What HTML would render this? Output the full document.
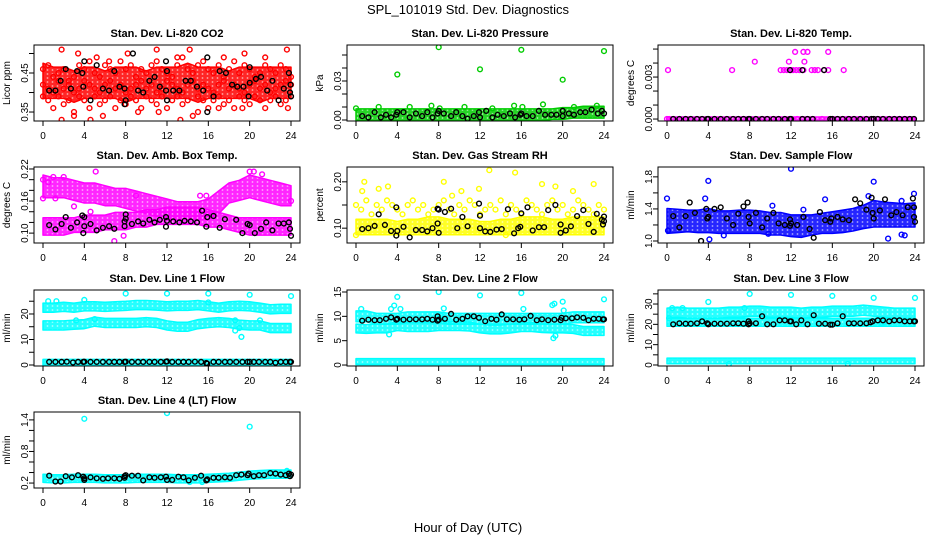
<!DOCTYPE html>
<html><head><meta charset="utf-8"><style>
html,body{margin:0;padding:0;background:#fff;}
svg{display:block;font-family:"Liberation Sans",Arial,sans-serif;}
</style></head><body>
<svg id="chart" width="936" height="540" viewBox="0 0 936 540" xmlns="http://www.w3.org/2000/svg">
<defs id="defs"></defs>
<text x="468" y="14" text-anchor="middle" font-size="13">SPL_101019  Std. Dev. Diagnostics</text>
<text x="468" y="532" text-anchor="middle" font-size="13">Hour of Day (UTC)</text>
<g id="panels"></g>
</svg>
<script>
const hourTicks = [0,4,8,12,16,20,24];

// ---- Panel 1: CO2 ----
const co2BandLo = [0.39,0.39,0.39,0.38,0.39,0.39,0.39,0.39,0.38,0.39,0.39,0.39,0.39,0.39,0.39,0.38,0.39,0.39,0.39,0.39,0.39,0.38,0.39,0.39,0.39];
const co2BandHi = [0.47,0.46,0.46,0.45,0.46,0.46,0.45,0.46,0.46,0.46,0.45,0.46,0.46,0.46,0.47,0.46,0.46,0.46,0.45,0.46,0.46,0.46,0.46,0.46,0.46];
const co2CloudA = [0.46,0.47,0.44,0.45,0.46,0.43,0.44,0.47,0.46,0.48,0.45,0.44,0.47,0.46,0.45,0.48,0.46,0.47,0.44,0.46,0.45,0.47,0.48,0.46,0.45,0.44,0.47,0.49,0.46,0.45,0.47,0.48,0.46,0.45,0.47,0.44,0.46,0.48,0.45,0.47,0.46,0.44,0.45,0.47,0.46,0.45,0.47,0.46,0.44];
const co2CloudB = [0.42,0.41,0.40,0.43,0.41,0.42,0.40,0.41,0.43,0.42,0.41,0.40,0.42,0.43,0.41,0.42,0.40,0.41,0.42,0.43,0.41,0.42,0.40,0.41,0.43,0.42,0.41,0.40,0.42,0.43,0.41,0.42,0.41,0.40,0.42,0.43,0.41,0.42,0.41,0.40,0.42,0.43,0.41,0.42,0.40,0.41,0.42,0.43,0.42];
const co2CloudC = [0.39,0.38,0.36,0.39,0.37,0.38,0.35,0.39,0.38,0.36,0.39,0.37,0.38,0.39,0.36,0.38,0.37,0.39,0.38,0.36,0.39,0.38,0.37,0.39,0.36,0.38,0.39,0.37,0.38,0.34,0.39,0.38,0.36,0.38,0.39,0.37,0.38,0.36,0.39,0.38,0.37,0.39,0.38,0.36,0.38,0.39,0.37,0.38,0.39];
const co2Out = [[1.8,0.51],[3.4,0.50],[5.2,0.49],[6.4,0.48],[8.2,0.50],[11,0.51],[13,0.49],[14.2,0.51],[17.5,0.49],[19.5,0.50],[21.5,0.49],[23.6,0.51],[1.8,0.33],[3,0.34],[4.6,0.33],[5.8,0.34],[9.2,0.35],[11.2,0.35],[13.3,0.33],[15,0.35],[17,0.36],[19.3,0.36],[23.7,0.36]];
const co2Black = [[0.6,0.405],[1.2,0.405],[1.7,0.43],[2.2,0.46],[2.7,0.41],[3.3,0.455],[3.8,0.45],[3.9,0.415],[4,0.48],[4.6,0.38],[5.2,0.47],[5.8,0.41],[6.4,0.405],[6.9,0.455],[7.4,0.415],[7.9,0.41],[7.9,0.37],[8,0.38],[8.7,0.50],[9.2,0.405],[9.7,0.40],[10.3,0.43],[10.8,0.44],[11.3,0.415],[11.9,0.405],[11.9,0.48],[12,0.455],[12,0.38],[12.6,0.405],[13.2,0.405],[13.8,0.43],[14.3,0.43],[14.9,0.415],[15.5,0.405],[15.9,0.35],[15.9,0.49],[16.5,0.39],[17.1,0.455],[17.7,0.45],[18.3,0.42],[18.8,0.415],[19.4,0.415],[19.9,0.39],[20,0.465],[20,0.425],[20.6,0.435],[21.1,0.44],[21.7,0.405],[22.2,0.43],[22.8,0.38],[23.3,0.41],[23.8,0.45],[23.9,0.40],[24,0.39],[23.95,0.42]];

// ---- Panel 2: Pressure ----
const presBandLo = [0.001,0.001,0.001,0.001,0.001,0.001,0.001,0.001,0.001,0.001,0.001,0.001,0.001,0.001,0.001,0.001,0.001,0.001,0.001,0.002,0.002,0.003,0.003,0.003,0.003];
const presBandHi = [0.007,0.007,0.007,0.007,0.007,0.007,0.007,0.007,0.007,0.007,0.007,0.007,0.007,0.007,0.007,0.007,0.007,0.007,0.007,0.007,0.008,0.008,0.009,0.009,0.009];
const presOut = [[0,0.009],[2.2,0.010],[4,0.035],[5.2,0.010],[7.3,0.011],[8,0.056],[8.1,0.009],[10.5,0.010],[12,0.039],[13.2,0.009],[15.3,0.011],[16,0.054],[16.1,0.010],[18.1,0.012],[20,0.031],[21.1,0.010],[23.3,0.011],[24,0.053]];
const presBlack = [[0.6,0.003],[1.2,0.002],[1.8,0.006],[2.4,0.002],[2.9,0.004],[3.4,0.002],[3.9,0.004],[4,0.006],[4.6,0.006],[5.2,0.002],[5.8,0.005],[6.4,0.003],[6.9,0.006],[7.4,0.002],[7.9,0.005],[8,0.007],[8.5,0.005],[9.2,0.003],[9.7,0.006],[10.3,0.003],[10.8,0.001],[11.4,0.003],[11.9,0.006],[12,0.002],[12.6,0.007],[13.2,0.002],[13.7,0.004],[14.3,0.003],[14.9,0.005],[15.4,0.002],[15.9,0.004],[16,0.005],[16.5,0.003],[17.1,0.003],[17.7,0.007],[18.3,0.004],[18.9,0.004],[19.4,0.004],[20,0.007],[20,0.003],[20.6,0.005],[21.1,0.004],[21.7,0.006],[22.2,0.006],[22.8,0.008],[23.4,0.005],[23.8,0.007],[24,0.005]];

// ---- Panel 3: Li-820 Temp ----
const tempBandLo = [0,0,0,0,0,0,0,0,0,0,0,0,0,0,0,0,0,0,0,0,0,0,0,0,0];
const tempBandHi = [0,0,0,0,0,0,0,0,0,0,0,0,0,0,0,0,0,0,0,0,0,0,0,0,0];
const tempOut = [[0.1,0.0035],[6.3,0.0035],[11,0.0035],[11.3,0.0035],[11.6,0.0035],[12,0.0035],[12.2,0.0035],[12.5,0.0035],[12.8,0.0035],[13.2,0.0035],[14,0.0035],[14.3,0.0035],[14.6,0.0035],[15.2,0.0035],[15.6,0.0035],[17.1,0.0035],[8.5,0.0041],[11.8,0.0041],[13.3,0.0041],[12.4,0.0048],[13.2,0.0048],[13.6,0.0048],[15.6,0.0048],[0,0],[0.2,0],[12.6,0],[15,0],[16,0],[17.5,0]];
const tempBlack = [[0.6,0],[1.2,0],[1.8,0],[2.3,0],[2.9,0],[3.4,0],[3.9,0],[4,0],[4.6,0],[5.2,0],[5.8,0],[6.4,0],[6.9,0],[7.4,0],[7.9,0],[8,0],[8.6,0],[9.2,0],[9.7,0],[10.3,0],[10.8,0],[11.4,0],[11.9,0],[12,0],[13.1,0],[13.6,0],[14.1,0],[15.8,0],[16,0],[16.5,0],[17,0],[17.6,0],[18.1,0],[18.7,0],[19.3,0],[19.8,0],[20,0],[20.4,0],[20.9,0],[21.5,0],[22,0],[22.5,0],[23,0],[23.5,0],[23.9,0],[11.9,0.0035],[13.1,0.0035],[15.2,0.0035]];

// ---- Panel 4: Amb. Box Temp ----
const ambUpLo = [0.17,0.17,0.17,0.165,0.16,0.16,0.155,0.155,0.15,0.145,0.14,0.135,0.13,0.13,0.13,0.13,0.13,0.14,0.16,0.165,0.17,0.165,0.16,0.155,0.155];
const ambUpHi = [0.205,0.20,0.20,0.195,0.19,0.19,0.185,0.18,0.18,0.175,0.17,0.165,0.16,0.155,0.155,0.155,0.16,0.175,0.19,0.195,0.205,0.20,0.195,0.19,0.185];
const ambLowLo = [0.10,0.10,0.10,0.105,0.105,0.105,0.11,0.11,0.11,0.115,0.115,0.12,0.12,0.12,0.12,0.12,0.115,0.115,0.11,0.105,0.10,0.10,0.10,0.10,0.10];
const ambLowHi = [0.125,0.125,0.125,0.125,0.13,0.13,0.13,0.135,0.135,0.135,0.14,0.14,0.145,0.145,0.145,0.145,0.14,0.135,0.13,0.125,0.125,0.125,0.125,0.125,0.125];
const ambOut = [[5.1,0.215],[6.9,0.085],[20,0.215],[20.4,0.215],[0,0.165],[1.2,0.165],[3,0.15],[4.6,0.14],[7.8,0.095],[21.2,0.21],[24,0.16],[15.2,0.17],[15.8,0.17],[9,0.17],[2,0.205],[1,0.205],[0,0.2],[0.5,0.195]];
const ambBlack = [[0.6,0.115],[1.2,0.107],[1.8,0.117],[2.2,0.13],[2.7,0.11],[3.3,0.12],[3.8,0.133],[3.9,0.10],[4,0.113],[4,0.13],[4.6,0.117],[5.2,0.105],[5.8,0.11],[6.4,0.113],[6.9,0.108],[7.9,0.113],[7.9,0.122],[8,0.135],[8,0.127],[8.6,0.117],[9.2,0.122],[9.7,0.118],[10.3,0.125],[10.8,0.12],[11.3,0.125],[11.9,0.13],[11.9,0.112],[12,0.123],[12.6,0.122],[13.2,0.12],[13.7,0.123],[14.3,0.122],[14.9,0.12],[15.4,0.142],[15.8,0.112],[15.9,0.13],[16.5,0.132],[17.1,0.11],[17.6,0.126],[18.7,0.125],[19.3,0.10],[19.8,0.117],[20,0.115],[20.5,0.10],[21.1,0.108],[21.6,0.12],[22.2,0.105],[22.8,0.118],[23.3,0.118],[23.8,0.12],[23.9,0.108],[24,0.095]];

// ---- Panel 5: Gas Stream RH ----
const rhBandLo = [0.09,0.09,0.09,0.09,0.09,0.09,0.09,0.09,0.09,0.09,0.09,0.09,0.09,0.09,0.09,0.09,0.09,0.09,0.09,0.09,0.09,0.09,0.09,0.09,0.09];
const rhBandHi = [0.115,0.115,0.115,0.115,0.11,0.115,0.115,0.12,0.12,0.115,0.115,0.115,0.11,0.11,0.115,0.115,0.12,0.12,0.12,0.115,0.115,0.12,0.12,0.12,0.12];
const rhCloud = [0.15,0.14,0.16,0.13,0.15,0.14,0.16,0.15,0.14,0.13,0.15,0.16,0.14,0.15,0.13,0.14,0.15,0.16,0.14,0.13,0.15,0.14,0.16,0.15,0.13,0.14,0.15,0.14,0.16,0.13,0.15,0.14,0.13,0.16,0.15,0.14,0.13,0.15,0.16,0.14,0.15,0.13,0.14,0.16,0.15,0.14,0.13,0.15,0.14];
const rhOut = [[0.8,0.20],[0.6,0.18],[2.2,0.185],[3.1,0.19],[10.2,0.18],[11.9,0.185],[12.9,0.225],[15.4,0.22],[18,0.195],[19.3,0.19],[21,0.18],[23,0.195],[0,0.085],[14.5,0.085],[8.5,0.20],[9.3,0.17]];
const rhBlack = [[0.6,0.098],[1.2,0.10],[1.8,0.105],[2.2,0.13],[2.8,0.107],[3.4,0.094],[3.9,0.084],[3.9,0.145],[4,0.094],[4.6,0.103],[5.2,0.08],[5.8,0.096],[6.4,0.096],[6.9,0.093],[7.4,0.10],[7.9,0.11],[7.9,0.142],[8,0.14],[8,0.09],[8.6,0.135],[9.2,0.142],[9.8,0.10],[10.3,0.124],[10.8,0.104],[11.9,0.153],[12,0.10],[12,0.127],[12.5,0.093],[13,0.092],[13.6,0.097],[14.1,0.098],[14.7,0.141],[15.3,0.089],[15.7,0.10],[15.9,0.103],[16,0.132],[16.6,0.145],[17.1,0.095],[17.7,0.102],[18.2,0.102],[18.6,0.139],[19.3,0.15],[19.8,0.108],[19.8,0.09],[20.3,0.095],[20.8,0.104],[21.4,0.126],[22,0.139],[22.5,0.109],[23,0.092],[23.3,0.131],[23.8,0.118],[23.9,0.108],[24,0.125],[24,0.115]];

// ---- Panel 6: Sample Flow ----
const sfBandLo = [1.12,1.13,1.14,1.13,1.13,1.12,1.12,1.12,1.12,1.12,1.10,1.10,1.08,1.07,1.10,1.12,1.12,1.13,1.15,1.18,1.20,1.20,1.20,1.20,1.20];
const sfBandHi = [1.38,1.37,1.36,1.36,1.38,1.35,1.35,1.36,1.36,1.35,1.33,1.33,1.30,1.30,1.30,1.32,1.34,1.36,1.38,1.42,1.48,1.46,1.45,1.44,1.45];
const sfOut = [[0,1.53],[0.1,1.13],[3.7,1.53],[4,1.75],[4.1,1.02],[12,1.90],[10.2,1.44],[15.3,1.52],[20,1.74],[19.5,1.56],[21.4,1.03],[22.7,1.08],[23,1.07],[23.9,1.59],[22.7,1.50],[13.2,1.39],[5.5,1.07],[9.8,1.09]];
const sfBlack = [[0.6,1.31],[1.2,1.17],[1.8,1.31],[2.2,1.48],[2.7,1.35],[3.3,1.00],[3.8,1.40],[3.9,1.28],[4,1.30],[4.6,1.40],[5.2,1.42],[5.8,1.28],[6.4,1.20],[6.9,1.34],[7.4,1.43],[7.8,1.48],[7.9,1.30],[8,1.22],[8.6,1.35],[9.2,1.17],[9.7,1.28],[10.3,1.35],[10.8,1.22],[11.4,1.20],[11.9,1.27],[11.9,1.19],[12,1.22],[12.6,1.20],[13.2,1.30],[13.8,1.15],[14.2,1.04],[14.8,1.36],[15.3,1.26],[15.8,1.24],[15.9,1.28],[16.5,1.30],[17,1.27],[17.6,1.26],[18.2,1.52],[18.7,1.47],[19.3,1.39],[19.8,1.54],[19.9,1.35],[20,1.28],[20.6,1.38],[21.1,1.52],[21.7,1.32],[22.2,1.36],[22.8,1.32],[23.3,1.42],[23.8,1.53],[23.9,1.42],[24,1.24],[23.9,1.30]];

// ---- Panel 7: Line 1 Flow ----
const l1UpLo = [21.5,21.5,21.8,21.5,22,22,21.8,22,22.2,22.5,22.5,22.3,22,22.2,22.2,22.5,22,21.5,22,22.2,22,21.5,20.8,21,21];
const l1UpHi = [23.5,23.5,23.8,23.5,24,24,23.8,24,24.2,24.5,24.5,24.3,24,24.2,24.2,24.5,24,23.5,24,24.2,24,23.5,22.8,23,23];
const l1MidLo = [14.5,14.5,14.5,14.8,15,16,15.5,15.5,15.5,15.5,15.8,15.5,14.5,14,14,15,15.5,15.8,15.5,14.8,14.5,14.5,13.5,13.5,13.5];
const l1MidHi = [16.5,16.5,16.5,16.8,17,18,17.5,17.5,17.5,17.5,17.8,17.5,16.5,16,16,17,17.5,17.8,17.5,16.8,16.5,16.5,15.5,15.5,15.5];
const l1LowLo = [0.6,0.6,0.6,0.6,0.6,0.6,0.6,0.6,0.6,0.6,0.6,0.6,0.6,0.6,0.6,0.6,0.6,0.6,0.6,0.6,0.6,0.6,0.6,0.6,0.6];
const l1LowHi = [1.4,1.4,1.4,1.4,1.4,1.4,1.4,1.4,1.4,1.4,1.4,1.4,1.4,1.4,1.4,1.4,1.4,1.4,1.4,1.4,1.4,1.4,1.4,1.4,1.4];
const l1Out = [[0.5,25],[1.3,25],[4,25.5],[8,28],[12,28],[16,28],[16,24.5],[20,27.5],[24,27],[19.2,11],[18.6,13.5],[19,14.5],[5,18],[21,17.5],[3.2,17.5],[18.6,17.5]];
const l1Black = [[0.6,1.2],[1.2,1.2],[1.8,1.2],[2.3,1.3],[2.9,1.0],[3.4,1.2],[3.9,1.2],[4,1.3],[4.6,1.2],[5.2,1.2],[5.8,1.2],[6.4,1.2],[6.9,1.2],[7.4,1.2],[7.9,1.2],[8,1.3],[8.6,1.2],[9.2,1.2],[9.7,1.2],[10.3,1.2],[10.8,1.2],[11.4,1.2],[11.9,1.3],[12,1.4],[12.5,1.2],[13.1,1.2],[13.6,1.2],[14.1,1.2],[14.7,1.3],[15.3,1.2],[15.8,0.8],[15.9,0.5],[16.5,1.2],[17,1.2],[17.6,1.2],[18.1,1.2],[18.7,1.2],[19.3,1.2],[19.8,1.2],[20,1.2],[20.4,1.2],[20.9,1.2],[21.5,1.2],[22,1.2],[22.5,0.9],[23,1.2],[23.5,1.2],[23.9,1.2],[24,1.2]];

// ---- Panel 8: Line 2 Flow ----
const l2UpLo = [9.3,9.3,8.8,8.8,8.8,9.1,9.1,9.1,9.1,8.8,8.8,8.8,8.8,8.8,8.8,8.8,8.8,8.8,8.8,8.8,8.8,9.1,9.1,9.1,9.1];
const l2UpHi = [10.7,10.7,10.2,10.2,10.2,10.5,10.5,10.5,10.5,10.2,10.2,10.2,10.2,10.2,10.2,10.2,10.2,10.2,10.2,10.2,10.2,10.5,10.5,10.5,10.5];
const l2MidLo = [7.0,6.9,7.0,7.0,7.5,7.3,7.3,7.3,7.5,7.5,7.5,7.4,7.0,6.8,6.8,7.0,7.3,7.3,7.1,7.0,7.0,6.9,6.5,6.5,6.5];
const l2MidHi = [8.0,7.9,8.0,8.0,8.5,8.3,8.3,8.3,8.5,8.5,8.5,8.4,8.0,7.8,7.8,8.0,8.3,8.3,8.1,8.0,8.0,7.9,7.5,7.5,7.5];
const l2LowLo = [0.5,0.5,0.5,0.5,0.5,0.5,0.5,0.5,0.5,0.5,0.5,0.5,0.5,0.5,0.5,0.5,0.5,0.5,0.5,0.5,0.5,0.5,0.5,0.5,0.5];
const l2LowHi = [0.9,0.9,0.9,0.9,0.9,0.9,0.9,0.9,0.9,0.9,0.9,0.9,0.9,0.9,0.9,0.9,0.9,0.9,0.9,0.9,0.9,0.9,0.9,0.9,0.9];
const l2Out = [[0.5,11.5],[3.4,11.5],[3.7,12.2],[4,14],[4.3,11.5],[8,15],[8.5,11.6],[12,14.3],[16,14.8],[16.2,11.5],[19,12.3],[19.2,12.6],[20,13],[20.1,11.2],[24,13.5],[3.2,6.3],[19.1,5.5],[19.3,6],[8.2,10.2]];
const l2Black = [[0.6,9.1],[1.2,9.3],[1.8,9.2],[2.3,9.2],[2.9,9.5],[3.4,9.8],[3.9,9.3],[4,9.5],[4.6,9.3],[5.2,9.4],[5.8,9.4],[6.4,9.4],[6.9,9.5],[7.4,9.3],[7.9,9.1],[7.9,10],[8,9.3],[8.6,9.5],[9.2,10.5],[9.7,9.3],[10.3,9.5],[10.8,10],[11.4,10],[11.9,9.7],[12.5,9.0],[13.1,9.5],[13.6,9.3],[14.1,10.4],[14.6,9.4],[15.2,9.4],[15.8,9.3],[16.3,9.4],[16.9,10.1],[17.5,9.2],[18,9.4],[18.6,9.2],[19.2,9.3],[19.8,9.2],[19.9,9.7],[20.3,9.6],[20.9,9.6],[21.4,9.8],[22,9.7],[22.5,9.2],[23,9.5],[23.5,9.5],[23.9,9.4],[24,9.4]];

// ---- Panel 9: Line 3 Flow ----
const l3UpLo = [24,24.5,24,24,24,24,24.5,24.5,25,25,24.5,24.5,24.5,24,24.5,24.5,25,25,25,25.5,25,24.5,24,24,24];
const l3UpHi = [27,27.5,27,27,27,27,27.5,27.5,28,28,27.5,27.5,27.5,27,27.5,27.5,28,28,28,28.5,28,27.5,27,27,27];
const l3MidLo = [20,20,20,20,20,20,20,20,20,20,20,20,20,20,20,20,20,20,20,20,20,20,20,20,20];
const l3MidHi = [22,22,22,22,22,22,22,22,22,22,22,22,22,22,22,22,22,22,22,22,22,22,22,22,22];
const l3LowLo = [1.6,1.6,1.6,1.6,1.6,1.6,1.6,1.6,1.6,1.6,1.6,1.6,1.6,1.6,1.6,1.6,1.6,1.6,1.6,1.6,1.6,1.6,1.6,1.6,1.6];
const l3LowHi = [2.4,2.4,2.4,2.4,2.4,2.4,2.4,2.4,2.4,2.4,2.4,2.4,2.4,2.4,2.4,2.4,2.4,2.4,2.4,2.4,2.4,2.4,2.4,2.4,2.4];
const l3Out = [[4,31],[8,35],[12,34.5],[16,34],[20,33],[24,33],[0.5,28],[1.5,28],[7.5,28],[21,21],[20.8,20.5],[0.2,23],[6,0.5],[17.5,0.5]];
const l3Black = [[0.6,20],[1.2,20.5],[1.8,20.3],[2.3,20.3],[2.9,20.5],[3.4,21.5],[3.9,20.5],[4,20],[4.6,20.3],[5.2,20.3],[5.8,20.3],[6.4,20.5],[6.9,20.5],[7.4,20.3],[7.9,21.5],[7.9,20],[8,20.5],[8.6,20.5],[9.2,24],[9.7,20],[10.3,20],[10.9,22],[11.4,22],[11.9,21.5],[12,21.5],[12.5,20],[13,22],[13.6,20],[14.2,24.5],[14.7,20.3],[15.3,20.3],[15.8,19.8],[16,19.8],[16.5,20.5],[17,24],[17.6,20.5],[18.1,20.5],[18.7,20.5],[19.3,20.5],[19.7,21],[19.9,21.5],[20.4,22],[20.9,22],[21.5,21.5],[22,22],[22.5,22],[23,21.5],[23.5,21.5],[23.9,21.5],[24,21.5]];

// ---- Panel 10: Line 4 (LT) Flow ----
const l4BandLo = [0.25,0.24,0.24,0.25,0.25,0.25,0.24,0.24,0.24,0.25,0.25,0.25,0.25,0.24,0.24,0.24,0.25,0.26,0.27,0.29,0.31,0.32,0.33,0.33,0.33];
const l4BandHi = [0.33,0.32,0.32,0.33,0.33,0.33,0.32,0.32,0.32,0.33,0.33,0.33,0.33,0.32,0.32,0.32,0.33,0.34,0.35,0.37,0.39,0.40,0.41,0.41,0.41];
const l4Out = [[4,1.42],[12,1.53],[20,1.27],[14.2,0.22],[15.4,0.22],[23.6,0.43]];
const l4Black = [[0.6,0.34],[1.2,0.23],[1.7,0.23],[2.2,0.33],[2.8,0.31],[3.4,0.35],[3.9,0.32],[4,0.26],[4,0.29],[4.6,0.31],[5.2,0.29],[5.8,0.28],[6.3,0.29],[6.9,0.29],[7.4,0.28],[7.9,0.30],[7.9,0.33],[8,0.35],[8.6,0.34],[9.2,0.34],[9.7,0.25],[10.3,0.31],[10.8,0.30],[11.4,0.31],[11.9,0.32],[12,0.26],[12.5,0.26],[13.1,0.32],[13.6,0.31],[14.1,0.25],[14.7,0.30],[15.3,0.34],[15.8,0.25],[15.9,0.27],[16.5,0.30],[17,0.30],[17.6,0.31],[18.1,0.30],[18.7,0.35],[19.2,0.36],[19.8,0.35],[19.9,0.38],[20.4,0.33],[20.9,0.35],[21.4,0.35],[22,0.39],[22.5,0.38],[23,0.36],[23.5,0.35],[23.8,0.38],[23.9,0.33],[24,0.36]];

const NS = "http://www.w3.org/2000/svg";
const colX = [34, 347, 658], rowY = [45, 167, 290, 412], PW = 266, PH = 76;

const panels = [
 {key:'co2', title:'Stan. Dev. Li-820 CO2', ylab:'Licor ppm', col:'#ff0000', c:0, r:0, ymin:0.327, ymax:0.5218, ticks:[0.35,0.40,0.45,0.50], labels:[0.35,0.45], fmt:2, bands:[[co2BandLo,co2BandHi]], clouds:[co2CloudA,co2CloudB,co2CloudC], out:co2Out, blk:co2Black},
 {key:'pressure', title:'Stan. Dev. Li-820 Pressure', ylab:'kPa', col:'#00cc00', c:1, r:0, ymin:-0.00077, ymax:0.0577, ticks:[0,0.01,0.02,0.03,0.04,0.05], labels:[0,0.03], fmt:2, bands:[[presBandLo,presBandHi]], clouds:[], out:presOut, blk:presBlack},
 {key:'li820-temp', title:'Stan. Dev. Li-820 Temp.', ylab:'degrees C', col:'#ff00ff', c:2, r:0, ymin:-0.00014, ymax:0.00529, ticks:[0,0.001,0.002,0.003,0.004,0.005], labels:[0,0.003], fmt:3, bands:[[tempBandLo,tempBandHi]], clouds:[], out:tempOut, blk:tempBlack},
 {key:'amb-box-temp', title:'Stan. Dev. Amb. Box Temp.', ylab:'degrees C', col:'#ff00ff', c:0, r:1, ymin:0.0815, ymax:0.2237, ticks:[0.10,0.12,0.14,0.16,0.18,0.20,0.22], labels:[0.10,0.16,0.22], fmt:2, bands:[[ambUpLo,ambUpHi],[ambLowLo,ambLowHi]], clouds:[], out:ambOut, blk:ambBlack},
 {key:'gas-rh', title:'Stan. Dev. Gas Stream RH', ylab:'percent', col:'#ffff00', c:1, r:1, ymin:0.068, ymax:0.232, ticks:[0.10,0.15,0.20], labels:[0.10,0.20], fmt:2, bands:[[rhBandLo,rhBandHi]], clouds:[rhCloud], out:rhOut, blk:rhBlack},
 {key:'sample-flow', title:'Stan. Dev. Sample Flow', ylab:'ml/min', col:'#0000ff', c:2, r:1, ymin:0.975, ymax:1.923, ticks:[1.0,1.2,1.4,1.6,1.8], labels:[1.0,1.4,1.8], fmt:1, bands:[[sfBandLo,sfBandHi]], clouds:[], out:sfOut, blk:sfBlack},
 {key:'line1-flow', title:'Stan. Dev. Line 1 Flow', ylab:'ml/min', col:'#00ffff', c:0, r:2, ymin:-0.39, ymax:29.4, ticks:[0,5,10,15,20,25], labels:[0,10,20], fmt:0, bands:[[l1UpLo,l1UpHi],[l1MidLo,l1MidHi],[l1LowLo,l1LowHi]], clouds:[], out:l1Out, blk:l1Black},
 {key:'line2-flow', title:'Stan. Dev. Line 2 Flow', ylab:'ml/min', col:'#00ffff', c:1, r:2, ymin:-0.2, ymax:15.41, ticks:[0,5,10,15], labels:[0,5,10,15], fmt:0, bands:[[l2UpLo,l2UpHi],[l2MidLo,l2MidHi],[l2LowLo,l2LowHi]], clouds:[], out:l2Out, blk:l2Black},
 {key:'line3-flow', title:'Stan. Dev. Line 3 Flow', ylab:'ml/min', col:'#00ffff', c:2, r:2, ymin:-0.5, ymax:36.9, ticks:[0,5,10,15,20,25,30,35], labels:[0,10,20,30], fmt:0, bands:[[l3UpLo,l3UpHi],[l3MidLo,l3MidHi],[l3LowLo,l3LowHi]], clouds:[], out:l3Out, blk:l3Black},
 {key:'line4-flow', title:'Stan. Dev. Line 4 (LT) Flow', ylab:'ml/min', col:'#00ffff', c:0, r:3, ymin:0.106, ymax:1.55, ticks:[0.2,0.4,0.6,0.8,1.0,1.2,1.4], labels:[0.2,0.8,1.4], fmt:1, bands:[[l4BandLo,l4BandHi]], clouds:[], out:l4Out, blk:l4Black}
];

function mk(tag, attrs, parent){
  const e = document.createElementNS(NS, tag);
  for (const k in attrs) e.setAttribute(k, attrs[k]);
  if (parent) parent.appendChild(e);
  return e;
}
const defs = document.getElementById('defs');
const root = document.getElementById('panels');

panels.forEach(function(p){
  const bx = colX[p.c], by = rowY[p.r];
  const xs = function(h){ return bx + 9 + h / 24 * (PW - 18); };
  const ys = function(v){ return by + PH - (v - p.ymin) / (p.ymax - p.ymin) * PH; };

  const g = mk('g', {}, root);
  
  

  const pat = mk('pattern', {id:'pat-' + p.key, patternUnits:'userSpaceOnUse', width:5, height:4}, defs);
  mk('rect', {x:0, y:0, width:5, height:4, fill:p.col, 'fill-opacity':0.85}, pat);
  mk('circle', {cx:2.5, cy:2, r:0.9, fill:'#fff', 'fill-opacity':0.6}, pat);

  const t = mk('text', {x: bx + PW/2, y: by - 8, 'text-anchor':'middle', 'font-size':11, 'font-weight':'bold'}, g);
  t.textContent = p.title;
  
  

  const yl = mk('text', {transform:'translate(' + (bx - 24) + ',' + (by + PH/2) + ') rotate(-90)', 'text-anchor':'middle', 'font-size':10}, g);
  yl.textContent = p.ylab;
  
  

  const clip = mk('clipPath', {id:'clip-' + p.key}, defs);
  mk('rect', {x:bx, y:by, width:PW, height:PH}, clip);
  const marks = mk('g', {'clip-path':'url(#clip-' + p.key + ')'}, g);
  
  

  p.bands.forEach(function(b, bi){
    const lo = b[0], hi = b[1], n = lo.length;
    let pts = [];
    for (let i = 0; i < n; i++) pts.push(xs(i * 24 / (n - 1)).toFixed(1) + ',' + (ys(hi[i]) - 2).toFixed(1));
    for (let i = n - 1; i >= 0; i--) pts.push(xs(i * 24 / (n - 1)).toFixed(1) + ',' + (ys(lo[i]) + 2).toFixed(1));
    const poly = mk('polygon', {points: pts.join(' '), fill:'url(#pat-' + p.key + ')', stroke:p.col, 'stroke-width':1.5, 'stroke-linejoin':'round'}, marks);
    
    
  });

  function ring(h, v, color, name){
    const c = mk('circle', {cx: xs(h).toFixed(1), cy: ys(v).toFixed(1), r:2.4, fill:'none', stroke:color, 'stroke-width':1.4}, marks);
    
    
  }
  p.clouds.forEach(function(arr){
    const n = arr.length;
    arr.forEach(function(v, i){ ring(i * 24 / (n - 1), v, p.col, p.key + '-point'); });
  });
  p.out.forEach(function(d){ ring(d[0], d[1], p.col, p.key + '-point'); });
  p.blk.forEach(function(d){ ring(d[0], d[1], '#000', p.key + '-black-point'); });

  const box = mk('rect', {x:bx, y:by, width:PW, height:PH, fill:'none', stroke:'#000', 'stroke-width':1}, g);
  
  

  const xa = mk('g', {}, g);
  
  
  mk('line', {x1:xs(0), x2:xs(24), y1:by+PH, y2:by+PH, stroke:'#000'}, xa);
  hourTicks.forEach(function(h){
    mk('line', {x1:xs(h), x2:xs(h), y1:by+PH, y2:by+PH+5, stroke:'#000'}, xa);
    const tx = mk('text', {x:xs(h), y:by+PH+18, 'text-anchor':'middle', 'font-size':10}, xa);
    tx.textContent = h;
  });

  const ya = mk('g', {}, g);
  
  
  mk('line', {x1:bx, x2:bx, y1:ys(p.ticks[0]), y2:ys(p.ticks[p.ticks.length-1]), stroke:'#000'}, ya);
  p.ticks.forEach(function(v){
    mk('line', {x1:bx-5, x2:bx, y1:ys(v), y2:ys(v), stroke:'#000'}, ya);
  });
  p.labels.forEach(function(v){
    const tx = mk('text', {transform:'translate(' + (bx - 6) + ',' + ys(v) + ') rotate(-90)', 'text-anchor':'middle', 'font-size':10}, ya);
    tx.textContent = v.toFixed(p.fmt);
  });
});
</script>
</body></html>
